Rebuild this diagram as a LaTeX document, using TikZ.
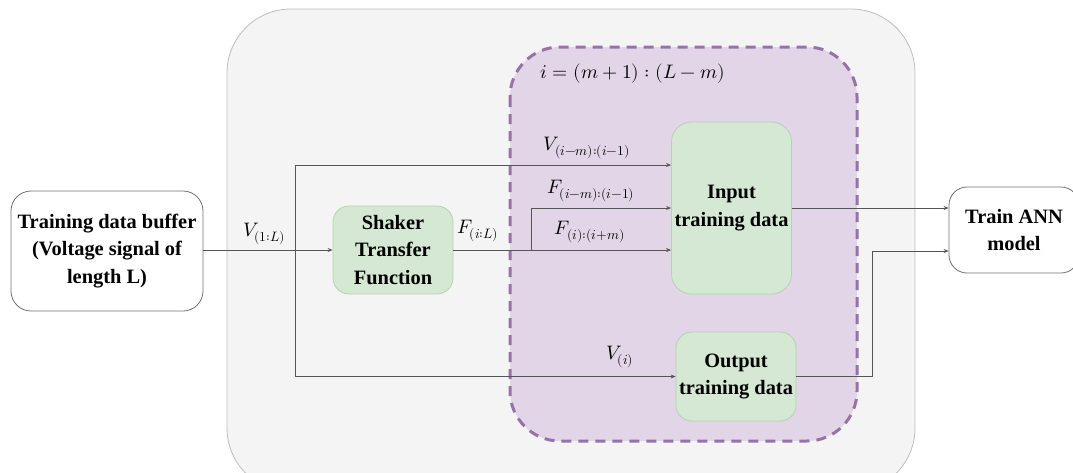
\documentclass[tikz,border=0pt]{standalone}
\usepackage{fontspec}
\usepackage{unicode-math}
\setmainfont{Liberation Serif}
\setmathfont{Latin Modern Math}
\usetikzlibrary{arrows.meta}
\definecolor{outerfill}{HTML}{F4F4F4}
\definecolor{outerline}{HTML}{BDBDBD}
\definecolor{purfill}{HTML}{E1D5E7}
\definecolor{purline}{HTML}{9673A6}
\definecolor{grfill}{HTML}{D5E8D4}
\definecolor{grline}{HTML}{B5D3AE}
\definecolor{boxline}{HTML}{707070}
\definecolor{conn}{HTML}{555555}
\tikzset{
  txt/.style={font=\fontsize{20.4}{27.5}\selectfont\bfseries, align=center, text=black},
  whitebox/.style={txt, draw=boxline, fill=white, line width=0.8pt, rounded corners=20pt, inner sep=0pt},
  greenbox/.style={txt, draw=grline, fill=grfill, line width=0.8pt, rounded corners=16pt, inner sep=0pt},
  lbl/.style={font=\fontsize{19.5}{24}\selectfont, inner sep=0pt},
  conline/.style={draw=conn, line width=0.7pt},
  arr/.style={conline, -{Stealth[length=5pt,width=4pt]}},
}
\begin{document}
\begin{tikzpicture}[x=1pt,y=-1pt]
\useasboundingbox (0,0) rectangle (1073,472);
\clip (0,0) rectangle (1073,472);
% outer grey container
\draw[fill=outerfill, draw=outerline, line width=0.8pt, rounded corners=64pt] (227,9) rectangle (915,492);
% purple dashed loop region
\draw[fill=purfill, draw=purline, line width=3pt, dash pattern=on 10pt off 7pt, rounded corners=50pt] (510,47) rectangle (857,441);
\node[lbl] (loop) at (633,73.5) {$i=(m+1):(L-m)$};
% nodes
\node[whitebox, minimum width=192pt, minimum height=120pt] (buf) at (107,251) {Training data buffer\\(Voltage signal of\\length L)};
\node[greenbox, minimum width=120pt, minimum height=88pt] (sh) at (393,250) {Shaker\\Transfer\\Function};
\node[greenbox, rounded corners=20pt, minimum width=120pt, minimum height=172pt] (inp) at (731.5,208) {Input\\training data};
\node[greenbox, minimum width=120pt, minimum height=89pt] (out) at (736,376.5) {Output\\training data};
\node[whitebox, rounded corners=18pt, minimum width=130pt, minimum height=86pt] (ann) at (1014,230) {Train ANN\\model};
% coordinates
\coordinate (vt) at (295,165);
\coordinate (vb) at (295,376.5);
\coordinate (br) at (531,250);
\coordinate (fy) at (531,208);
\coordinate (ok) at (872,251);
% connectors
\draw[arr] (buf.east |- sh.west) -- (sh.west);
\draw[conline] (vt) -- (vb);
\draw[arr] (vt) -- (vt -| inp.west);
\draw[arr] (vb) -- (vb -| out.west);
\draw[arr] (sh.east) -- (sh.east -| inp.west);
\draw[arr] (br) -- (fy) -- (fy -| inp.west);
\draw[arr] (inp.east) -- (inp.east -| ann.west);
\draw[arr] (out.east) -| (ok) -- (ok -| ann.west);
% labels
\node[lbl] (l1) at (264.5,234) {$V_{(1:L)}$};
\node[lbl] (l2) at (587,148) {$V_{(i-m):(i-1)}$};
\node[lbl] (l3) at (591,191) {$F_{(i-m):(i-1)}$};
\node[lbl] (l4) at (478,231) {$F_{(i:L)}$};
\node[lbl] (l5) at (590,232) {$F_{(i):(i+m)}$};
\node[lbl] (l6) at (620,357) {$V_{(i)}$};
\end{tikzpicture}
\end{document}
